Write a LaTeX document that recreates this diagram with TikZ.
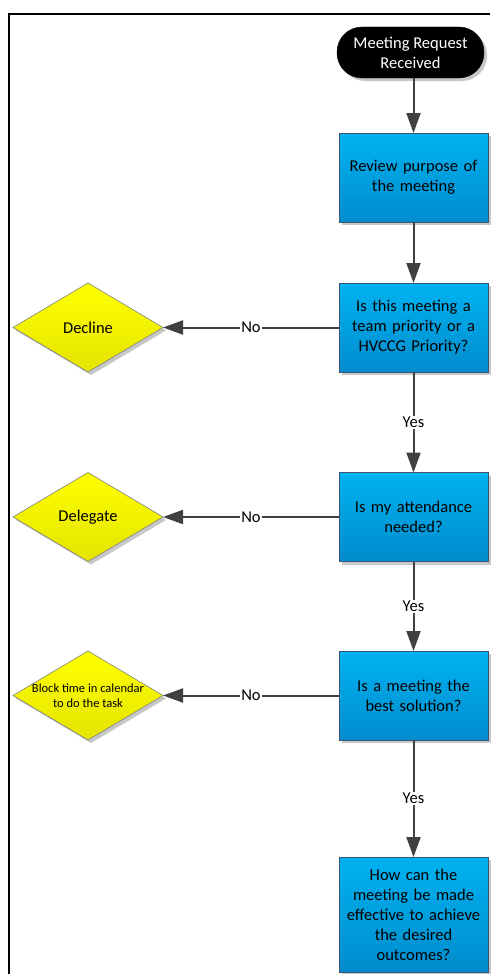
\documentclass[tikz,border=0pt]{standalone}
\usepackage{fontspec}
\setmainfont{Carlito}
\usetikzlibrary{shapes.geometric,arrows.meta,shadows}
\definecolor{boxtop}{RGB}{0,178,240}
\definecolor{boxbot}{RGB}{0,140,205}
\definecolor{boxline}{RGB}{60,85,115}
\definecolor{dectop}{RGB}{255,255,0}
\definecolor{decbot}{RGB}{228,228,0}
\definecolor{conncol}{RGB}{64,64,64}
\begin{document}
\begin{tikzpicture}[x=1pt,y=-1pt,
  every node/.style={font=\fontsize{16.5}{20}\selectfont, outer sep=0pt},
  myshadow/.style={drop shadow={shadow xshift=3pt,shadow yshift=-3pt,fill=black,opacity=0.22}},
  term/.style={rectangle, rounded corners=25pt, fill=black, draw=black, text=white,
    minimum width=147pt, minimum height=51pt, align=center, inner sep=2pt, myshadow},
  proc/.style={rectangle, top color=boxtop, bottom color=boxbot, draw=boxline, line width=0.8pt,
    minimum width=149pt, minimum height=89pt, text width=140pt, align=center, inner sep=4pt, myshadow},
  dec/.style={diamond, top color=dectop, bottom color=decbot, draw=black!50, line width=0.6pt,
    minimum width=150pt, minimum height=89pt, inner sep=0pt, align=center, myshadow},
  conn/.style={draw=conncol, line width=2pt, -{Triangle[length=20pt,width=14pt]}},
  lab/.style={fill=white, inner sep=1pt, text=black}
]
\useasboundingbox (0,0) rectangle (490,974);
\draw[line width=2pt] (9,974) -- (9,14) -- (490,14);

\node[term] (start) at (410.5,52.5) {Meeting Request\\Received};
\node[proc] (p1) at (413.5,177.5) {Review purpose of\\the meeting};
\node[proc] (p2) at (413.5,327.5) {Is this meeting a\\team priority or a\\HVCCG Priority?};
\node[dec] (d1) at (88,327.5) {Decline};
\node[proc] (p3) at (413.5,517) {Is my attendance\\needed?};
\node[dec] (d2) at (88,517) {Delegate};
\node[proc] (p4) at (413.5,695.5) {Is a meeting the\\best solution?};
\node[dec, label={[font=\fontsize{12.5}{14.5}\selectfont, align=center, inner sep=0pt]center:{Block time in calendar\\to do the task}}] (d3) at (88,695.5) {};
\node[proc, minimum height=115pt] (p5) at (413.5,914.5) {How can the\\meeting be made\\effective to achieve\\the desired\\outcomes?};

\draw[conn] (start.south -| p1.north) -- (p1.north);
\draw[conn] (p1.south) -- (p2.north);
\draw[conn] (p2.south) -- node[lab] {Yes} (p3.north);
\draw[conn] (p3.south) -- node[lab] {Yes} (p4.north);
\draw[conn] (p4.south) -- node[lab] {Yes} (p5.north);
\draw[conn] (p2.west) -- node[lab] {No} (d1.east);
\draw[conn] (p3.west) -- node[lab] {No} (d2.east);
\draw[conn] (p4.west) -- node[lab] {No} (d3.east);
\end{tikzpicture}
\end{document}
